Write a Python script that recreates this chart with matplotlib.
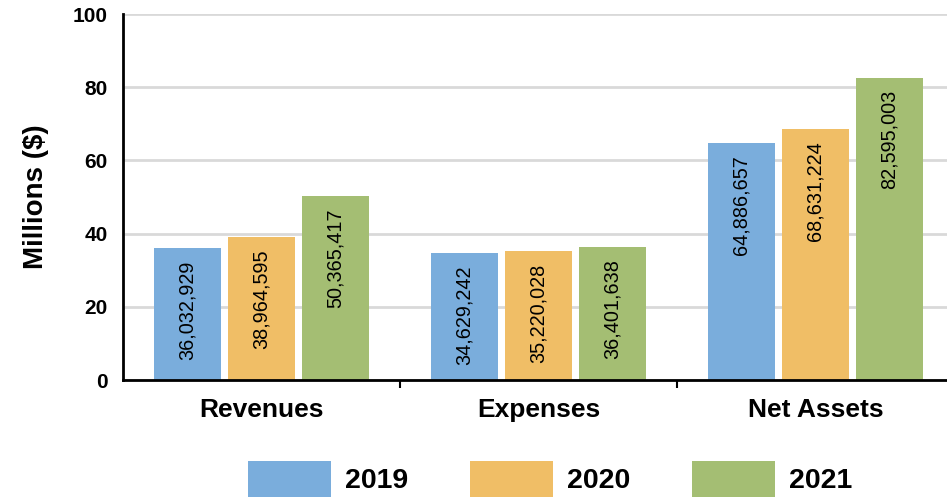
import matplotlib
matplotlib.use("Agg")
import matplotlib.pyplot as plt
import numpy as np

categories = ["Revenues", "Expenses", "Net Assets"]
years = ["2019", "2020", "2021"]
values_2019 = [36032929, 34629242, 64886657]
values_2020 = [38964595, 35220028, 68631224]
values_2021 = [50365417, 36401638, 82595003]
colors = ["#7AADDC", "#F0BE66", "#A4BE73"]
y_ticks = [0, 20, 40, 60, 80, 100]

plt.rcParams["font.family"] = ["Liberation Sans", "DejaVu Sans"]

W, H = 947, 497
fig = plt.figure(figsize=(W / 100, H / 100), dpi=100)
left, right, top, bottom = 123, 954, 14, 380
ax = fig.add_axes([left / W, 1 - bottom / H, (right - left) / W, (bottom - top) / H])

x = np.arange(len(categories))
width = 67 / 277
step = 74 / 277
series = [values_2019, values_2020, values_2021]
for i, (vals, col, yr) in enumerate(zip(series, colors, years)):
    v = np.array(vals) / 1e6
    bars = ax.bar(x + (i - 1) * step, v, width=width, color=col, label=yr, zorder=3)
    for b, raw in zip(bars, vals):
        ax.annotate(f"{raw:,}", (b.get_x() + b.get_width() / 2, b.get_height()),
                    xytext=(0, -9), textcoords="offset points",
                    rotation=90, ha="center", va="top", fontsize=14.3, color="black", zorder=4)

ax.set_xlim(-0.5, 2.5)
ax.set_ylim(0, 100)
ax.set_yticks(y_ticks)
ax.set_yticklabels([str(t) for t in y_ticks], fontsize=15, fontweight="bold")
ax.tick_params(axis="y", length=0, pad=11)
ax.set_xticks(x)
ax.set_xticklabels(categories, fontsize=19, fontweight="bold")
ax.tick_params(axis="x", which="major", length=0, pad=13)
ax.set_xticks([0.5, 1.5], minor=True)
ax.tick_params(axis="x", which="minor", length=6, width=1.5, direction="out", color="black")
ax.grid(axis="y", color="#D9D9D9", linewidth=2, zorder=0)
for s in ["top", "right"]:
    ax.spines[s].set_visible(False)
ax.spines["left"].set_linewidth(2)
ax.spines["bottom"].set_linewidth(2)
ax.spines["bottom"].set_zorder(5)
ax.set_ylabel("Millions ($)", fontsize=20, fontweight="bold", labelpad=17)

fig.legend(loc="center", bbox_to_anchor=(0.581, 18 / H), ncol=3, frameon=False,
           prop={"size": 20.5, "weight": "bold"}, handlelength=2.92, handleheight=1.55,
           handletextpad=0.5, columnspacing=2.15, borderpad=0, borderaxespad=0)

fig.savefig("out.png", dpi=100)
